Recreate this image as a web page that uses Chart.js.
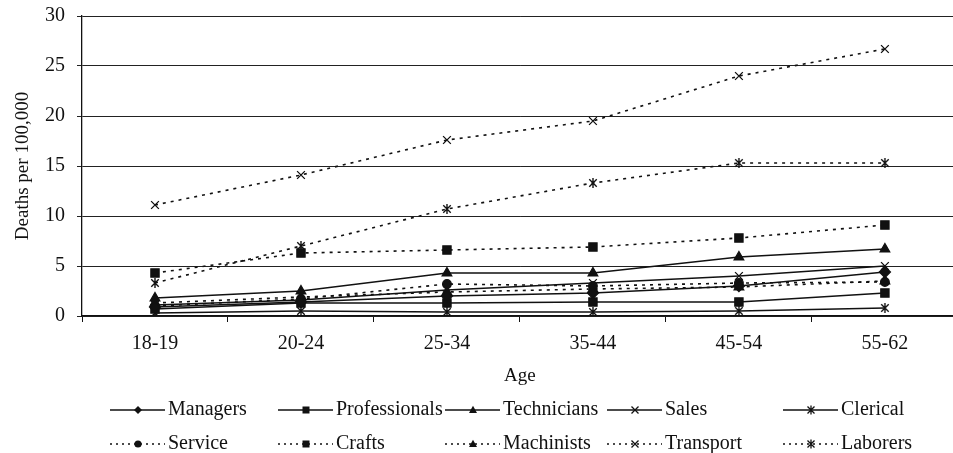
<!DOCTYPE html>
<html>
<head>
<meta charset="utf-8">
<script src="https://cdn.jsdelivr.net/npm/chart.js@4/dist/chart.umd.min.js"></script>
<style>
html, body { margin: 0; padding: 0; background: #fff; overflow: hidden; }
#wrap { width: 965px; height: 453px; }
</style>
</head>
<body>
<div id="wrap"><canvas id="deaths" width="965" height="453"></canvas></div>
<script>
// age groups on the x axis
var ages = ['18-19', '20-24', '25-34', '35-44', '45-54', '55-62'];

// deaths per 100,000
var managers      = [0.9, 1.4, 2.0, 2.3, 3.0, 4.4];
var professionals = [0.7, 1.3, 1.3, 1.4, 1.4, 2.3];
var technicians   = [1.8, 2.5, 4.3, 4.3, 5.9, 6.7];
var sales         = [1.1, 1.6, 2.6, 3.3, 4.0, 5.0];
var clerical      = [0.3, 0.5, 0.4, 0.4, 0.5, 0.8];
var service       = [1.0, 1.7, 3.2, 3.0, 3.3, 3.4];
var crafts        = [4.3, 6.3, 6.6, 6.9, 7.8, 9.1];
var machinists    = [1.3, 1.9, 2.4, 2.7, 2.9, 3.5];
var transport     = [11.1, 14.1, 17.6, 19.5, 24.0, 26.7];
var laborers      = [3.3, 7.0, 10.7, 13.3, 15.3, 15.3];

var occupations = ['Managers', 'Professionals', 'Technicians', 'Sales', 'Clerical',
                   'Service', 'Crafts', 'Machinists', 'Transport', 'Laborers'];
var values = [managers, professionals, technicians, sales, clerical,
              service, crafts, machinists, transport, laborers];

var yTicks = [0, 5, 10, 15, 20, 25, 30];

var ink = '#111';
var serif = 'Liberation Serif';

// excel style asterisk: an x with a vertical bar
function asterisk(r, lw) {
    var c = document.createElement('canvas');
    var s = Math.ceil(2 * r + 2);
    c.width = s; c.height = s;
    var g = c.getContext('2d');
    var m = s / 2, d = r * 0.75;
    g.strokeStyle = ink;
    g.lineWidth = lw;
    g.beginPath();
    g.moveTo(m - d, m - d); g.lineTo(m + d, m + d);
    g.moveTo(m + d, m - d); g.lineTo(m - d, m + d);
    g.moveTo(m, m - r); g.lineTo(m, m + r);
    g.stroke();
    return c;
}

// marker and line style for each series (same order as occupations)
var looks = [
    {dotted: false, marker: 'rectRot',  r: 5.5},
    {dotted: false, marker: 'rect',     r: 5.8},
    {dotted: false, marker: 'triangle', r: 5.5},
    {dotted: false, marker: 'crossRot', r: 5.5},
    {dotted: false, marker: 'asterisk', r: 5},
    {dotted: true,  marker: 'circle',   r: 4.3},
    {dotted: true,  marker: 'rect',     r: 5.8},
    {dotted: true,  marker: 'triangle', r: 5.5},
    {dotted: true,  marker: 'crossRot', r: 5.5},
    {dotted: true,  marker: 'asterisk', r: 5}
];

var datasets = occupations.map(function (name, i) {
    var lk = looks[i];
    return {
        label: name,
        data: values[i],
        borderColor: ink,
        backgroundColor: ink,
        borderWidth: lk.dotted ? 1.6 : 1.4,
        borderDash: lk.dotted ? [3, 5] : [],
        pointStyle: lk.marker == 'asterisk' ? asterisk(lk.r, 1.4) : lk.marker,
        pointRadius: lk.r,
        pointBorderWidth: 1.3,
        pointBackgroundColor: ink,
        pointBorderColor: ink,
        tension: 0
    };
});

// small marker for the legend
function legendMarker(ctx, kind, x, y) {
    ctx.save();
    ctx.fillStyle = ink;
    ctx.strokeStyle = ink;
    ctx.lineWidth = 1.3;
    ctx.setLineDash([]);
    ctx.beginPath();
    if (kind == 'rectRot') {
        ctx.moveTo(x, y - 4); ctx.lineTo(x + 4, y); ctx.lineTo(x, y + 4); ctx.lineTo(x - 4, y);
        ctx.closePath(); ctx.fill();
    } else if (kind == 'rect') {
        ctx.rect(x - 3.5, y - 3.5, 7, 7); ctx.fill();
    } else if (kind == 'triangle') {
        ctx.moveTo(x, y - 4.2); ctx.lineTo(x + 4, y + 3); ctx.lineTo(x - 4, y + 3);
        ctx.closePath(); ctx.fill();
    } else if (kind == 'circle') {
        ctx.arc(x, y, 3.6, 0, Math.PI * 2); ctx.fill();
    } else if (kind == 'crossRot') {
        ctx.moveTo(x - 3.5, y - 3.5); ctx.lineTo(x + 3.5, y + 3.5);
        ctx.moveTo(x + 3.5, y - 3.5); ctx.lineTo(x - 3.5, y + 3.5); ctx.stroke();
    } else {
        ctx.moveTo(x - 3.5, y - 3.5); ctx.lineTo(x + 3.5, y + 3.5);
        ctx.moveTo(x + 3.5, y - 3.5); ctx.lineTo(x - 3.5, y + 3.5);
        ctx.moveTo(x, y - 4.5); ctx.lineTo(x, y + 4.5); ctx.stroke();
    }
    ctx.restore();
}

var legendCols = [110, 278, 445, 607, 783];
var legendRows = [410, 444];

var gridLegend = {
    id: 'gridLegend',
    afterDraw: function (chart) {
        var ctx = chart.ctx;
        ctx.save();
        ctx.font = '20px "' + serif + '"';
        ctx.textBaseline = 'middle';
        ctx.fillStyle = ink;
        occupations.forEach(function (name, i) {
            var lk = looks[i];
            var x = legendCols[i % 5];
            var y = legendRows[Math.floor(i / 5)];
            ctx.beginPath();
            ctx.strokeStyle = ink;
            ctx.lineWidth = 1.4;
            ctx.setLineDash(lk.dotted ? [2, 4] : []);
            ctx.moveTo(x, y); ctx.lineTo(x + 55, y);
            ctx.stroke();
            legendMarker(ctx, lk.marker, x + 28, y);
            ctx.fillText(name, x + 58, y);
        });
        ctx.restore();
    }
};

new Chart(document.getElementById('deaths').getContext('2d'), {
    type: 'line',
    data: {
        labels: ages,
        datasets: datasets
    },
    options: {
        responsive: false,
        animation: false,
        layout: { padding: { top: 16, right: 3, bottom: 60, left: 0 } },
        plugins: {
            legend: { display: false },
            tooltip: { enabled: false }
        },
        scales: {
            x: {
                offset: true,
                grid: { drawOnChartArea: false, offset: true, tickLength: 6, color: ink },
                border: { color: ink, width: 1.3 },
                ticks: { padding: 10, color: ink, font: { family: serif, size: 20 } },
                title: { display: true, text: 'Age', color: ink,
                         font: { family: serif, size: 19 }, padding: { top: 4, bottom: 6 } },
                afterFit: function (s) { s.height = 77; }
            },
            y: {
                min: 0,
                max: 30,
                afterBuildTicks: function (s) {
                    s.ticks = yTicks.map(function (v) { return { value: v }; });
                },
                grid: { color: '#222', lineWidth: 1, tickLength: 5 },
                border: { color: ink, width: 1.3 },
                ticks: { padding: 12, color: ink, font: { family: serif, size: 20 } },
                title: { display: true, text: 'Deaths per 100,000', color: ink,
                         font: { family: serif, size: 19 }, padding: { top: 12, bottom: 0 } },
                afterFit: function (s) {
                    s.width = 82;
                    s.paddingTop = 0;
                    s.paddingBottom = 0;
                }
            }
        }
    },
    plugins: [gridLegend]
});
</script>
</body>
</html>
